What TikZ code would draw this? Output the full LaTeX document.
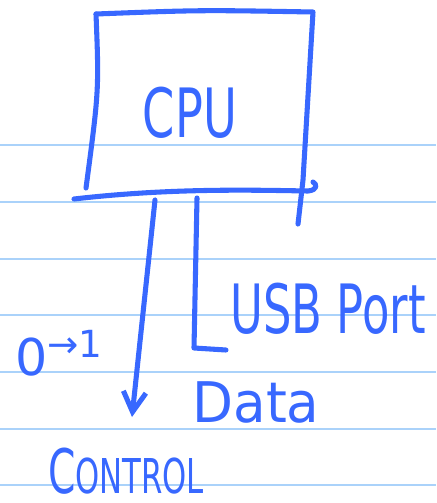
\documentclass[tikz,border=0pt]{standalone}
\usepackage{fontspec}
\setmainfont{DejaVu Sans}
\usetikzlibrary{arrows.meta}
\definecolor{ink}{RGB}{56,104,255}
\definecolor{ruleblue}{RGB}{170,210,250}
\tikzset{
  pen/.style={ink, line width=3.8pt, line cap=round, line join=round},
  ruling/.style={ruleblue, line width=1.5pt},
  hand/.style={ink, anchor=base, inner sep=0pt}
}
\begin{document}
\begin{tikzpicture}
[x=0.75pt, y=-0.75pt]
\useasboundingbox (0,0) rectangle (436,503);
\foreach \y in {145,202,259,315,372,429,485}
  \draw[ruling] (0,\y) -- (436,\y);
\coordinate (boxtl) at (96,14);
\coordinate (boxtr) at (313,12);
\coordinate (boxbl) at (74,199);
\coordinate (boxbr) at (313,182);
\draw[pen] (boxtl) .. controls (200,10) .. (boxtr) -- (303,180) -- (298,224);
\draw[pen] (boxtl) .. controls (99,90) .. (86,188);
\draw[pen] (boxbl) .. controls (170,188) and (250,190) .. (308,191) .. controls (318,190) and (317,184) .. (boxbr);
\node[hand, font=\fontsize{51}{51}\selectfont, xscale=0.68] (cpu) at (190,137) {CPU};
\coordinate (ctrltop) at (155,200);
\coordinate (ctrlend) at (132,417);
\draw[pen, -{Straight Barb[length=15pt, width=17pt]}] (ctrltop) -- (ctrlend);
\coordinate (datatop) at (197,198);
\coordinate (dataend) at (226,350);
\draw[pen] (datatop) -- (194,348) -- (dataend);
\node[hand, font=\fontsize{51}{51}\selectfont, xscale=0.66] (usb) at (328,333) {USB Port};
\node[hand, font=\fontsize{42}{42}\selectfont, xscale=0.95] (data) at (256,422) {Data};
\node[hand, font=\fontsize{36}{36}\selectfont, xscale=0.64] (control) at (126,493) {{\fontsize{46}{46}\selectfont C}ONTROL};
\node[hand, font=\fontsize{38}{38}\selectfont] (flip) at (59,375) {0\raisebox{0.35em}{\fontsize{28}{28}\selectfont →1}};
\end{tikzpicture}
\end{document}
